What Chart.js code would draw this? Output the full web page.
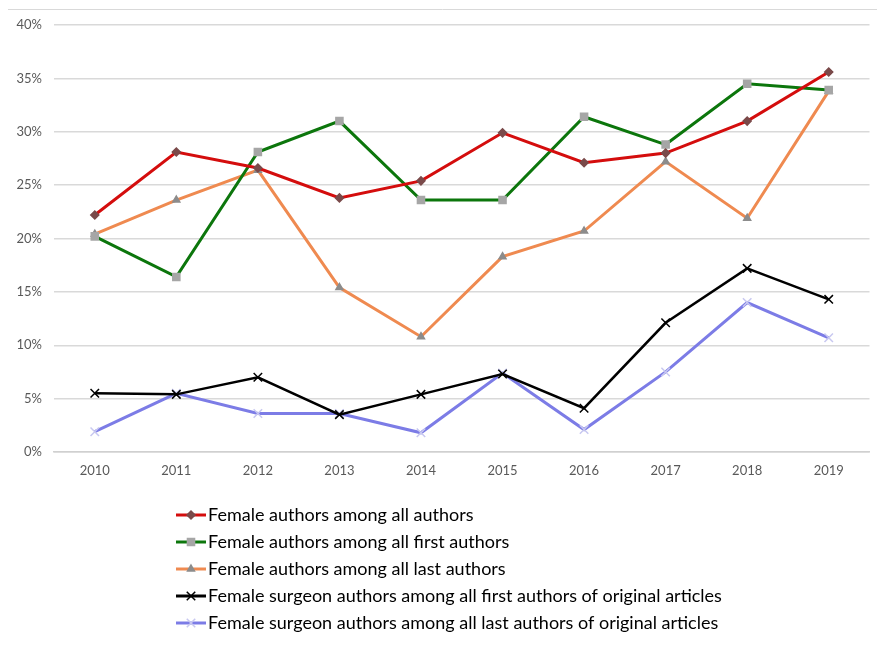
<!DOCTYPE html>
<html>
<head>
<meta charset="utf-8">
<script src="https://cdn.jsdelivr.net/npm/chart.js@4"></script>
<style>
  html, body { margin: 0; padding: 0; background: #fff; }
  #wrap { width: 877px; height: 650px; position: relative; }
</style>
</head>
<body>
<div id="wrap"><canvas id="chart" width="877" height="650"></canvas></div>
<script>
// years on the x axis
const years = ['2010', '2011', '2012', '2013', '2014', '2015', '2016', '2017', '2018', '2019'];

// values in percent
const allAuthors = [22.2, 28.1, 26.6, 23.8, 25.4, 29.9, 27.1, 28.0, 31.0, 35.6];
const firstAuthors = [20.2, 16.4, 28.1, 31.0, 23.6, 23.6, 31.4, 28.8, 34.5, 33.9];
const lastAuthors = [20.4, 23.6, 26.4, 15.4, 10.8, 18.3, 20.7, 27.2, 21.9, 33.8];
const surgeonFirst = [5.5, 5.4, 7.0, 3.5, 5.4, 7.3, 4.1, 12.1, 17.2, 14.3];
const surgeonLast = [1.9, 5.5, 3.6, 3.6, 1.8, 7.4, 2.1, 7.5, 14.0, 10.7];

const seriesNames = [
  'Female authors among all authors',
  'Female authors among all first authors',
  'Female authors among all last authors',
  'Female surgeon authors among all first authors of original articles',
  'Female surgeon authors among all last authors of original articles'
];

// draws the legend as a vertical list under the plot, and the thin top rule
const listLegend = {
  id: 'listLegend',
  beforeDraw(chart) {
    const c = chart.ctx;
    c.save();
    c.strokeStyle = '#d9d9d9';
    c.lineWidth = 1;
    c.beginPath();
    c.moveTo(8, 9.5);
    c.lineTo(877, 9.5);
    c.stroke();
    c.restore();
  },
  afterDraw(chart) {
    const c = chart.ctx;
    const x0 = 176, x1 = 206;
    let y = 515;
    c.save();
    c.font = '18px Lato, "Liberation Sans", sans-serif';
    c.textBaseline = 'middle';
    chart.data.datasets.forEach(ds => {
      c.strokeStyle = ds.borderColor;
      c.lineWidth = 3;
      c.beginPath();
      c.moveTo(x0, y);
      c.lineTo(x1, y);
      c.stroke();
      c.fillStyle = ds.pointBackgroundColor;
      c.strokeStyle = ds.pointBorderColor;
      c.lineWidth = ds.pointBorderWidth;
      Chart.helpers.drawPoint(c, {
        pointStyle: ds.pointStyle,
        radius: ds.pointRadius,
        borderWidth: ds.pointBorderWidth
      }, (x0 + x1) / 2, y);
      c.fillStyle = '#000';
      c.fillText(ds.label, x1 + 2, y);
      y += 27;
    });
    c.restore();
  }
};

function makeSet(i, data, color, style, markColor, width, radius) {
  return {
    label: seriesNames[i],
    data: data,
    borderColor: color,
    borderWidth: width,
    pointStyle: style,
    pointRadius: radius,
    pointBackgroundColor: markColor,
    pointBorderColor: markColor,
    pointBorderWidth: 1.5,
    tension: 0
  };
}

const ctx = document.getElementById('chart').getContext('2d');
const myChart = new Chart(ctx, {
  type: 'line',
  data: {
    labels: years,
    datasets: [
      makeSet(0, allAuthors, '#d40d0d', 'rectRot', '#7a4a4a', 3, 4),
      makeSet(1, firstAuthors, '#0c760c', 'rect', '#a6a6a6', 3, 5),
      makeSet(2, lastAuthors, '#ef8a50', 'triangle', '#8c8c8c', 3, 4),
      makeSet(3, surgeonFirst, '#000000', 'crossRot', '#000000', 2.5, 6),
      makeSet(4, surgeonLast, '#7c7ce6', 'crossRot', '#c8c8f0', 3, 6)
    ]
  },
  options: {
    responsive: false,
    animation: false,
    layout: { padding: { top: 25, right: 4, bottom: 168, left: 0 } },
    plugins: {
      legend: { display: false },
      tooltip: { enabled: false }
    },
    scales: {
      x: {
        offset: true,
        grid: { display: false, drawTicks: false },
        border: { color: '#d0d0d0', width: 1.5 },
        ticks: { color: '#595959', font: { family: 'Lato, "Liberation Sans", sans-serif', size: 13 }, padding: 11 },
        afterFit: s => { s.height = 30; }
      },
      y: {
        min: 0,
        max: 40,
        ticks: {
          stepSize: 5,
          color: '#595959',
          font: { family: 'Lato, "Liberation Sans", sans-serif', size: 13 },
          padding: 12,
          callback: v => v + '%'
        },
        grid: { color: '#d9d9d9', lineWidth: 1.5, drawTicks: false },
        border: { display: false },
        afterFit: s => { s.width = 54; }
      }
    }
  },
  plugins: [listLegend]
});
</script>
</body>
</html>
